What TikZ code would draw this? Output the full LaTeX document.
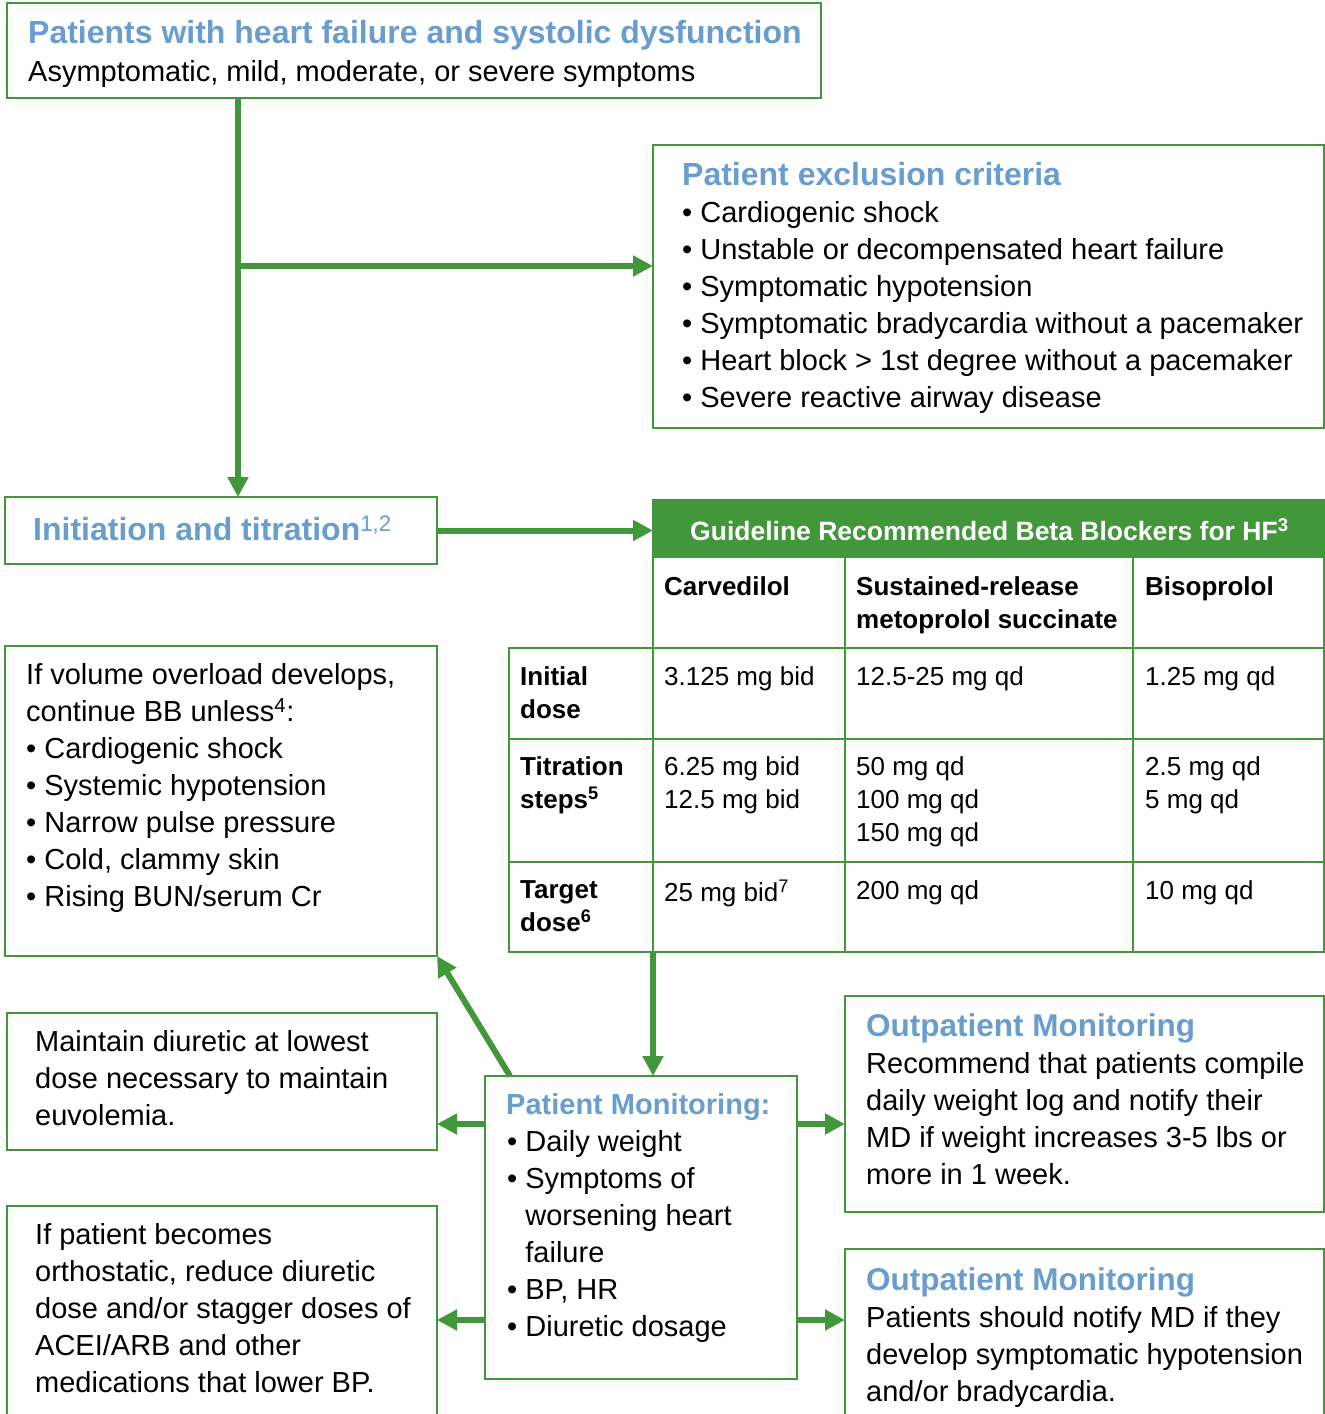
\documentclass[tikz,border=0pt]{standalone}
\usepackage{fontspec}
\setmainfont{Liberation Sans}
\usetikzlibrary{arrows.meta, positioning}
\definecolor{hfgreen}{RGB}{67,151,59}
\definecolor{hfblue}{RGB}{104,157,206}
\tikzset{
  box/.style={draw=hfgreen, line width=2pt, anchor=north west, outer sep=0pt, inner sep=0pt},
  flow/.style={draw=hfgreen, line width=6pt, -{Triangle[length=20pt,width=20pt]}},
  grid/.style={draw=hfgreen, line width=2pt},
  ttl/.style={anchor=north west, inner sep=0pt, text=hfblue, font=\bfseries\fontsize{32}{37}\selectfont},
  txt/.style={anchor=north west, inner sep=0pt, align=left, font=\fontsize{29}{37}\selectfont},
  cell/.style={anchor=north west, inner sep=0pt, align=left, font=\fontsize{26}{33}\selectfont}
}
\newcommand{\bul}{\textbullet\ }
\newcommand{\hang}{\phantom{\textbullet\ }}

\begin{document}
\begin{tikzpicture}[x=1pt, y=-1pt]
  \useasboundingbox (0,0) rectangle (1325,1414);
  % boxes
  \node[box, minimum width=814pt, minimum height=95pt] (top) at (7,3) {};
  \node[box, minimum width=671pt, minimum height=283pt] (excl) at (653,145) {};
  \node[box, minimum width=432pt, minimum height=67pt] (init) at (5,497) {};
  \node[box, minimum width=432pt, minimum height=310pt] (vol) at (5,646) {};
  \node[box, minimum width=430pt, minimum height=137pt] (maint) at (7,1013) {};
  \node[box, minimum width=430pt, minimum height=230pt] (ortho) at (7,1206) {};
  \node[box, minimum width=312pt, minimum height=303pt] (pm) at (485,1076) {};
  \node[box, minimum width=479pt, minimum height=216pt] (out1) at (845,996) {};
  \node[box, minimum width=479pt, minimum height=190pt] (out2) at (845,1249) {};

  % top
  \node[ttl] (toptitle) at (28,20) {Patients with heart failure and systolic dysfunction};
  \node[txt] (topbody) at (28,60) {Asymptomatic, mild, moderate, or severe symptoms};

  % exclusion criteria
  \node[ttl] (excltitle) at (682,162) {Patient exclusion criteria};
  \node[txt] (exclbody) at (682,201) {\bul Cardiogenic shock\\
    \bul Unstable or decompensated heart failure\\
    \bul Symptomatic hypotension\\
    \bul Symptomatic bradycardia without a pacemaker\\
    \bul Heart block > 1st degree without a pacemaker\\
    \bul Severe reactive airway disease};

  % initiation
  \node[ttl] (inittext) at (33,516) {Initiation and titration\textsuperscript{\mdseries 1,2}};

  % beta blocker table
  \node[box, fill=hfgreen, minimum width=671pt, minimum height=57pt] (band) at (653,500) {};
  \node[cell, text=white, font=\bfseries\fontsize{26.5}{33}\selectfont] (bandtext) at (690,518)
    {Guideline Recommended Beta Blockers for HF\textsuperscript{3}};
  \draw[grid] (653,557) rectangle (1324,952);
  \draw[grid] (509,648) rectangle (1324,952);
  \draw[grid] (845,557) -- (845,952);
  \draw[grid] (1133,557) -- (1133,952);
  \draw[grid] (509,739) -- (1324,739);
  \draw[grid] (509,862) -- (1324,862);
  \node[cell, font=\bfseries\fontsize{26}{33}\selectfont] (carv) at (664,576) {Carvedilol};
  \node[cell, font=\bfseries\fontsize{26}{33}\selectfont] (meto) at (856,576) {Sustained-release\\metoprolol succinate};
  \node[cell, font=\bfseries\fontsize{26}{33}\selectfont] (biso) at (1145,576) {Bisoprolol};
  \node[cell, font=\bfseries\fontsize{26}{33}\selectfont] (rowinit) at (520,666) {Initial\\dose};
  \node[cell, font=\bfseries\fontsize{26}{33}\selectfont] (rowtitr) at (520,756) {Titration\\steps\textsuperscript{5}};
  \node[cell, font=\bfseries\fontsize{26}{33}\selectfont] (rowtarg) at (520,880) {Target\\dose\textsuperscript{6}};
  \node[cell] (carvinit) at (664,666) {3.125 mg bid};
  \node[cell] (metoinit) at (856,666) {12.5-25 mg qd};
  \node[cell] (bisoinit) at (1145,666) {1.25 mg qd};
  \node[cell] (carvtitr) at (664,756) {6.25 mg bid\\12.5 mg bid};
  \node[cell] (metotitr) at (856,756) {50 mg qd\\100 mg qd\\150 mg qd};
  \node[cell] (bisotitr) at (1145,756) {2.5 mg qd\\5 mg qd};
  \node[cell] (carvtarg) at (664,880) {25 mg bid\textsuperscript{7}};
  \node[cell] (metotarg) at (856,880) {200 mg qd};
  \node[cell] (bisotarg) at (1145,880) {10 mg qd};

  % left column
  \node[txt] (voltext) at (26,663) {If volume overload develops,\\
    continue BB unless\textsuperscript{4}:\\
    \bul Cardiogenic shock\\
    \bul Systemic hypotension\\
    \bul Narrow pulse pressure\\
    \bul Cold, clammy skin\\
    \bul Rising BUN/serum Cr};
  \node[txt] (mainttext) at (35,1030) {Maintain diuretic at lowest\\dose necessary to maintain\\euvolemia.};
  \node[txt] (orthotext) at (35,1223) {If patient becomes\\orthostatic, reduce diuretic\\dose and/or stagger doses of\\ACEI/ARB and other\\medications that lower BP.};

  % patient monitoring
  \node[ttl, font=\bfseries\fontsize{29}{37}\selectfont] (pmtitle) at (506,1093) {Patient Monitoring:};
  \node[txt] (pmbody) at (507,1130) {\bul Daily weight\\
    \bul Symptoms of\\
    \hang worsening heart\\
    \hang failure\\
    \bul BP, HR\\
    \bul Diuretic dosage};

  % outpatient
  \node[ttl, font=\bfseries\fontsize{31.5}{37}\selectfont] (out1title) at (866,1013) {Outpatient Monitoring};
  \node[txt] (out1body) at (866,1052) {Recommend that patients compile\\daily weight log and notify their\\MD if weight increases 3-5 lbs or\\more in 1 week.};
  \node[ttl, font=\bfseries\fontsize{31.5}{37}\selectfont] (out2title) at (866,1267) {Outpatient Monitoring};
  \node[txt] (out2body) at (866,1306) {Patients should notify MD if they\\develop symptomatic hypotension\\and/or bradycardia.};

  % arrows
  \coordinate (spine) at (238,266);
  \coordinate (drop) at (653,952);
  \coordinate (kick) at (510,1076);
  \coordinate (upper) at (0,1124);
  \coordinate (lower) at (0,1320);
  \draw[flow] (spine |- top.south) -- (spine |- init.north);
  \draw[flow] (spine) -- (spine -| excl.west);
  \draw[flow] (init.east) -- (init.east -| band.west);
  \draw[flow] (drop) -- (drop |- pm.north);
  \draw[flow] (kick) -- (vol.south east);
  \draw[flow] (pm.west |- upper) -- (maint.east |- upper);
  \draw[flow] (pm.west |- lower) -- (ortho.east |- lower);
  \draw[flow] (pm.east |- upper) -- (out1.west |- upper);
  \draw[flow] (pm.east |- lower) -- (out2.west |- lower);
\end{tikzpicture}
\end{document}
